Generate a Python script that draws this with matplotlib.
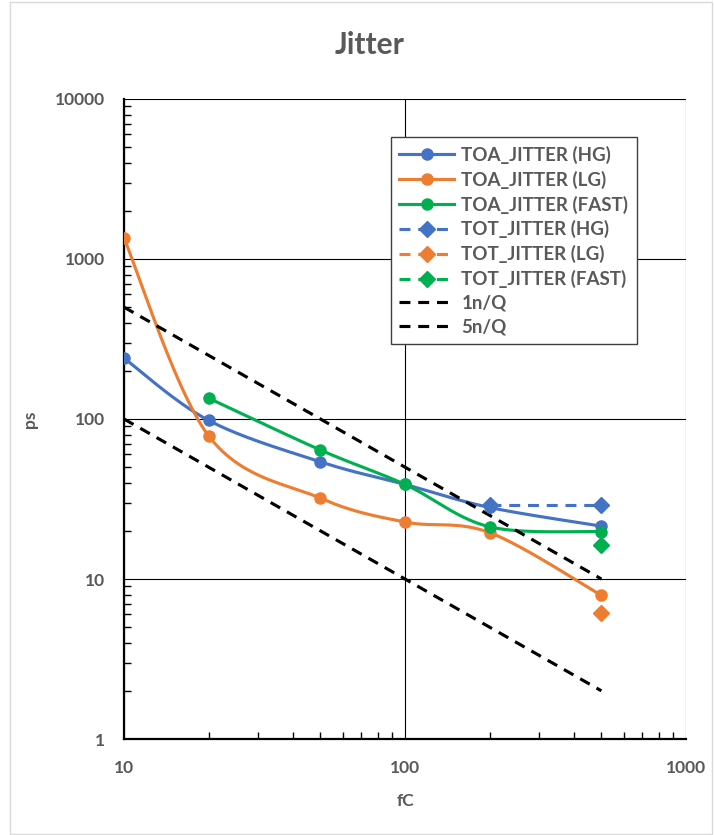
import numpy as np
import matplotlib
matplotlib.use("Agg")
import matplotlib.pyplot as plt
from matplotlib.lines import Line2D
from matplotlib.patches import Rectangle
from matplotlib.ticker import FixedLocator, FuncFormatter, LogLocator, NullFormatter

# ---------------- data ----------------
charge = [10, 20, 50, 100, 200, 500]
toa_hg = [240, 98, 54, 39, 28, 21.4]
toa_lg = [1350, 78.5, 32, 22.7, 19.5, 7.9]
charge_fast = [20, 50, 100, 200, 500]
toa_fast = [135, 64, 39, 21.2, 19.8]
tot_hg_x = [200, 500]
tot_hg = [29, 29]
tot_lg_x = [500]
tot_lg = [6.1]
tot_fast_x = [500]
tot_fast = [16.3]
ref_1n = [100, 50, 20, 10, 5, 2]
ref_5n = [500, 250, 100, 50, 25, 10]

BLUE = "#4472C4"
ORANGE = "#ED7D31"
GREEN = "#00B050"
GRAY = "#595959"

plt.rcParams['font.family'] = ['Lato', 'DejaVu Sans']


def smooth_loglog(xs, ys, n=60):
    """Catmull-Rom style Bezier smoothing in log-log space (Excel-like)."""
    P = np.column_stack([np.log10(xs), np.log10(ys)])
    m = len(P)
    out = []
    for i in range(m - 1):
        p_prev = P[i - 1] if i > 0 else P[i]
        p0, p1 = P[i], P[i + 1]
        p_next = P[i + 2] if i + 2 < m else P[i + 1]
        b1 = p0 + (p1 - p_prev) / 6.0
        b2 = p1 - (p_next - p0) / 6.0
        t = np.linspace(0, 1, n)[:, None]
        seg = ((1 - t) ** 3) * p0 + 3 * ((1 - t) ** 2) * t * b1 + 3 * (1 - t) * t ** 2 * b2 + t ** 3 * p1
        out.append(seg if i == 0 else seg[1:])
    S = np.vstack(out)
    return 10 ** S[:, 0], 10 ** S[:, 1]


fig = plt.figure(figsize=(7.14, 8.35), dpi=100)
fig.patches.append(Rectangle((10 / 714, 1 / 835), 702 / 714, 832 / 835, transform=fig.transFigure,
                             fill=False, edgecolor="#D9D9D9", linewidth=1.0))
ax = fig.add_axes([124 / 714, 96 / 835, 562 / 714, 640 / 835])
ax.set_xscale("log")
ax.set_yscale("log")
ax.set_xlim(10, 1000)
ax.set_ylim(1, 10000)

lw = 2.25
dash = (0, (3.5, 2.5))
for xs, ys, c in [(charge, toa_hg, BLUE), (charge, toa_lg, ORANGE), (charge_fast, toa_fast, GREEN)]:
    sx, sy = smooth_loglog(xs, ys)
    ax.plot(sx, sy, color=c, lw=lw, zorder=3, solid_capstyle="round")
    ax.plot(xs, ys, ls="none", marker="o", ms=8, color=c, zorder=4)

ax.plot(tot_hg_x, tot_hg, color=BLUE, lw=lw, ls=dash, marker="D", ms=8, zorder=5)
ax.plot(tot_lg_x, tot_lg, color=ORANGE, ls="none", marker="D", ms=8, zorder=5)
ax.plot(tot_fast_x, tot_fast, color=GREEN, ls="none", marker="D", ms=8, zorder=5)

ax.plot(charge, ref_1n, color="black", lw=lw, ls=dash, zorder=3)
ax.plot(charge, ref_5n, color="black", lw=lw, ls=dash, zorder=3)

# axes styling
ax.xaxis.set_major_locator(FixedLocator([10, 100, 1000]))
ax.yaxis.set_major_locator(FixedLocator([1, 10, 100, 1000, 10000]))
ax.xaxis.set_minor_locator(LogLocator(base=10, subs=np.arange(2, 10)))
ax.yaxis.set_minor_locator(LogLocator(base=10, subs=np.arange(2, 10)))
ax.xaxis.set_minor_formatter(NullFormatter())
ax.yaxis.set_minor_formatter(NullFormatter())
fmt = FuncFormatter(lambda v, p: "%g" % v)
ax.xaxis.set_major_formatter(fmt)
ax.yaxis.set_major_formatter(fmt)
ax.grid(True, which="major", color="black", lw=0.8, zorder=0)
ax.set_axisbelow(True)
ax.tick_params(which="minor", direction="in", length=5, width=1, color="black")
ax.tick_params(which="major", direction="in", length=0, width=1, colors=GRAY, labelsize=12.5)
ax.tick_params(axis="y", which="major", pad=14)
ax.tick_params(axis="x", which="major", pad=15)
for lab in ax.get_xticklabels() + ax.get_yticklabels():
    lab.set_fontweight("bold")
ax.spines["left"].set_linewidth(1.6)
ax.spines["bottom"].set_linewidth(1.6)
ax.spines["top"].set_visible(False)
ax.spines["right"].set_visible(False)

ax.set_xlabel("fC", color=GRAY, fontsize=12.5, fontweight="bold", labelpad=12)
ax.set_ylabel("ps", color=GRAY, fontsize=12.5, fontweight="bold", labelpad=12)
fig.text(0.518, 0.946, "Jitter", ha="center", va="center", fontsize=21.5, fontweight="bold", color=GRAY)

handles = [
    Line2D([], [], color=BLUE, lw=lw, marker="o", ms=8),
    Line2D([], [], color=ORANGE, lw=lw, marker="o", ms=8),
    Line2D([], [], color=GREEN, lw=lw, marker="o", ms=8),
    Line2D([], [], color=BLUE, lw=lw, ls=dash, marker="D", ms=8),
    Line2D([], [], color=ORANGE, lw=lw, ls=dash, marker="D", ms=8),
    Line2D([], [], color=GREEN, lw=lw, ls=dash, marker="D", ms=8),
    Line2D([], [], color="black", lw=lw, ls=dash),
    Line2D([], [], color="black", lw=lw, ls=dash),
]
labels = ["TOA_JITTER (HG)", "TOA_JITTER (LG)", "TOA_JITTER (FAST)", "TOT_JITTER (HG)",
          "TOT_JITTER (LG)", "TOT_JITTER (FAST)", "1n/Q", "5n/Q"]
leg = ax.legend(handles, labels, loc="upper left", bbox_to_anchor=(0.475, 0.94), borderaxespad=0,
                frameon=True, fancybox=False, edgecolor="#404040", framealpha=1, handlelength=2.9,
                prop={"weight": "bold", "size": 13.5}, labelspacing=0.36, borderpad=0.45, handletextpad=0.4)
leg.get_frame().set_linewidth(1.0)
for t in leg.get_texts():
    t.set_color(GRAY)

fig.savefig("out.png", dpi=100)
